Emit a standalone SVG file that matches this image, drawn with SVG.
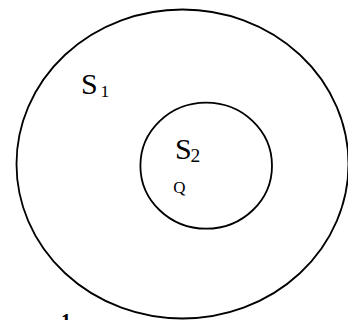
<svg xmlns="http://www.w3.org/2000/svg" width="348" height="320" viewBox="0 0 348 320">
<style>
.ring{fill:none;stroke:#000;stroke-width:1.8}
.t{font-family:"Liberation Serif","Times New Roman",serif;fill:#000}
</style>
<rect width="348" height="320" fill="#fff"/>
<g id="S1">
<ellipse class="ring" cx="182.5" cy="164" rx="166" ry="154.5"/>
<text class="t" x="81" y="93.5" font-size="30">S</text>
<text class="t" x="100.6" y="97" font-size="17.5">1</text>
</g>
<g id="S2">
<ellipse class="ring" cx="206.2" cy="165.7" rx="65.8" ry="63"/>
<text class="t" x="175" y="158.5" font-size="30">S</text>
<text class="t" x="190.6" y="161.5" font-size="19.5">2</text>
<text class="t" x="173.3" y="192.5" font-size="17">Q</text>
</g>
<g id="connectors"></g>
<text class="t" x="61" y="327.5" font-size="20" font-weight="bold">1</text>
</svg>
